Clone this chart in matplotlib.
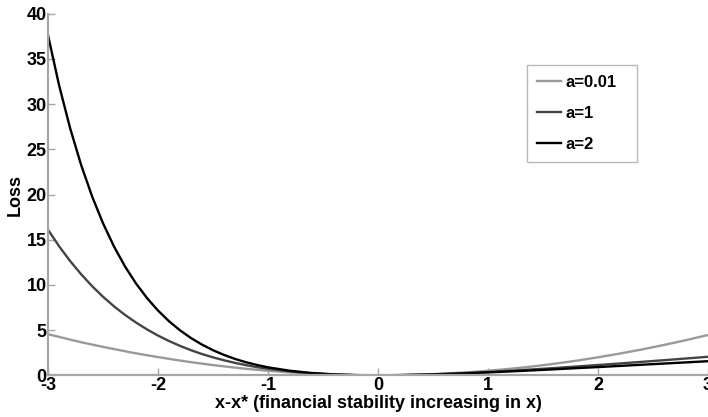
import matplotlib
matplotlib.use("Agg")
import matplotlib.pyplot as plt

plt.rcParams['font.family'] = ['Liberation Sans', 'DejaVu Sans']
plt.rcParams['font.weight'] = 'bold'
plt.rcParams['axes.unicode_minus'] = False

# values
x = [-3.0, -2.9, -2.8, -2.7, -2.6, -2.5, -2.4, -2.3, -2.2, -2.1, -2.0,
     -1.9, -1.8, -1.7, -1.6, -1.5, -1.4, -1.3, -1.2, -1.1, -1.0,
     -0.8, -0.6, -0.4, -0.2, 0.0, 0.2, 0.4, 0.6, 0.8, 1.0,
     1.2, 1.4, 1.6, 1.8, 2.0, 2.2, 2.4, 2.6, 2.8, 3.0]

loss_a001 = [4.54, 4.25, 3.95, 3.66, 3.40, 3.14, 2.90, 2.66, 2.43, 2.22, 2.01,
             1.82, 1.63, 1.45, 1.29, 1.13, 0.99, 0.85, 0.72, 0.61, 0.50,
             0.32, 0.18, 0.08, 0.02, 0.0, 0.02, 0.08, 0.18, 0.32, 0.50,
             0.72, 0.97, 1.27, 1.61, 1.99, 2.41, 2.86, 3.36, 3.89, 4.46]

loss_a1 = [16.09, 14.27, 12.64, 11.18, 9.86, 8.68, 7.62, 6.67, 5.83, 5.07, 4.39,
           3.79, 3.25, 2.77, 2.35, 1.98, 1.66, 1.37, 1.12, 0.90, 0.72,
           0.43, 0.22, 0.09, 0.02, 0.0, 0.02, 0.07, 0.15, 0.25, 0.37,
           0.50, 0.65, 0.80, 0.97, 1.14, 1.31, 1.49, 1.67, 1.86, 2.05]

loss_a2 = [37.56, 32.06, 27.33, 23.27, 19.78, 16.79, 14.22, 12.02, 10.14, 8.53, 7.15,
           5.97, 4.97, 4.11, 3.39, 2.77, 2.25, 1.81, 1.44, 1.14, 0.88,
           0.50, 0.25, 0.10, 0.02, 0.0, 0.02, 0.07, 0.14, 0.22, 0.32,
           0.43, 0.54, 0.66, 0.79, 0.91, 1.04, 1.17, 1.30, 1.43, 1.56]

labels = ['a=0.01', 'a=1', 'a=2']
colors = ['#999999', '#444444', '#000000']

fig = plt.figure(figsize=(7.08, 4.17), dpi=100)
ax = fig.add_axes([0.068, 0.1, 0.932, 0.867])

for ys, lab, col in zip([loss_a001, loss_a1, loss_a2], labels, colors):
    ax.plot(x, ys, color=col, linewidth=1.7, label=lab)

ax.set_xlim(-3, 3)
ax.set_ylim(0, 40)
ax.set_xticks([-3, -2, -1, 0, 1, 2, 3])
ax.set_yticks([0, 5, 10, 15, 20, 25, 30, 35, 40])

for side in ['top', 'right']:
    ax.spines[side].set_visible(False)
for side in ['left', 'bottom']:
    ax.spines[side].set_color('#a6a6a6')
    ax.spines[side].set_linewidth(1.6)

ax.tick_params(direction='in', length=5, color='#a6a6a6', width=1,
               labelsize=13, pad=1)
for t in ax.get_xticklabels() + ax.get_yticklabels():
    t.set_fontweight('bold')

ax.set_xlabel('x-x* (financial stability increasing in x)', fontsize=13,
              fontweight='bold', labelpad=1)
ax.set_ylabel('Loss', fontsize=13, fontweight='bold', labelpad=2)

leg = ax.legend(loc='upper left', bbox_to_anchor=(0.726, 0.758, 0.167, 0.1),
                mode='expand', fontsize=12,
                frameon=True, fancybox=False, handlelength=1.4,
                handletextpad=0.3, labelspacing=0.95, borderpad=0.6,
                borderaxespad=0)
leg.get_frame().set_edgecolor('#a6a6a6')
leg.get_frame().set_linewidth(1.0)
for t in leg.get_texts():
    t.set_fontweight('bold')

fig.savefig('out.png', dpi=100)
